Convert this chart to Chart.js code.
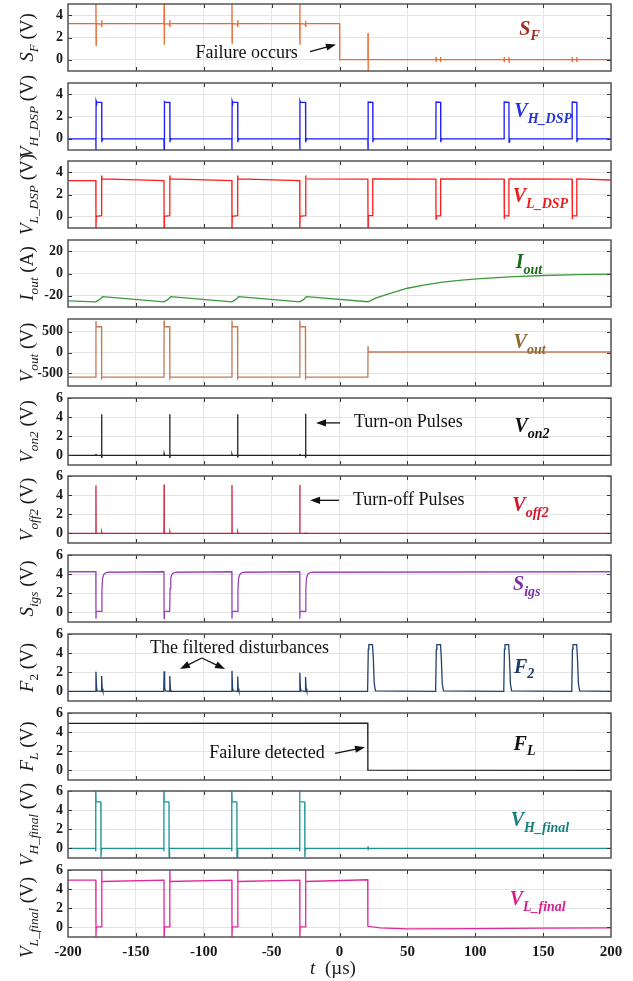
<!DOCTYPE html>
<html>
<head>
<meta charset="utf-8">
<script src="https://cdn.jsdelivr.net/npm/chart.js@4.4.0/dist/chart.umd.min.js"></script>
<style>
body { margin: 0; background: #fff; }
#wrap { position: relative; width: 633px; height: 981px; overflow: hidden; }
#wrap canvas { position: absolute; left: 0; }
</style>
</head>
<body>
<div id="wrap"></div>
<script>
// time axis (us)
const xTicks = [-200, -150, -100, -50, 0, 50, 100, 150, 200];
const ticksDsp = [0, 2, 4];
const ticksIout = [-20, 0, 20];
const ticksVout = [-500, 0, 500];
const ticks6 = [0, 2, 4, 6];

// waveforms: [t (us), value]
const sfPts = [
	[-200, 3.25], [-179.5, 3.25], [-179.4, 5.2], [-179.3, 1.3], [-179.2, 3.25], [-175.3, 3.2], [-175.2, 3.55], [-175.1, 2.95], [-175.0, 3.25],
	[-129.3, 3.25], [-129.2, 5.2], [-129.1, 1.35], [-129.0, 3.25], [-125.1, 3.2], [-125.0, 3.55], [-124.9, 2.95], [-124.8, 3.25],
	[-79.3, 3.25], [-79.2, 5.2], [-79.1, 1.5], [-79.0, 3.25], [-75.1, 3.2], [-75.0, 3.55], [-74.9, 2.95], [-74.8, 3.25],
	[-29.3, 3.25], [-29.2, 5.2], [-29.1, 1.35], [-29.0, 3.25], [-25.1, 3.2], [-25.0, 3.5], [-24.9, 2.95], [-24.8, 3.25],
	[0.1, 3.25], [0.2, 0.02],
	[20.9, 0.02], [21.0, 2.4], [21.1, -1.1], [21.2, 0.02],
	[71.0, 0.02], [71.1, 0.25], [71.2, -0.2], [71.3, 0.02], [74.3, 0.02], [74.4, 0.25], [74.5, -0.2], [74.6, 0.02],
	[121.2, 0.02], [121.3, 0.25], [121.4, -0.2], [121.5, 0.02], [124.7, 0.02], [124.8, 0.25], [124.9, -0.2], [125.0, 0.02],
	[171.3, 0.02], [171.4, 0.25], [171.5, -0.2], [171.6, 0.02], [174.7, 0.02], [174.8, 0.25], [174.9, -0.2], [175.0, 0.02],
	[200, 0.02],
];
const vhDspPts = [
	[-200, 0], [-179.5, 0], [-179.4, -1.1], [-179.3, 3.4], [-179.0, 3.27], [-175.2, 3.27], [-175.1, -0.3], [-174.8, 0.05], [-174.5, 0],
	[-129.3, 0], [-129.2, -1.1], [-129.1, 3.4], [-128.8, 3.27], [-125.0, 3.27], [-124.9, -0.3], [-124.6, 0.05], [-124.3, 0],
	[-79.3, 0], [-79.2, -1.1], [-79.1, 3.4], [-78.8, 3.27], [-75.0, 3.27], [-74.9, -0.3], [-74.6, 0.05], [-74.3, 0],
	[-29.3, 0], [-29.2, -1.1], [-29.1, 3.4], [-28.8, 3.27], [-25.0, 3.27], [-24.9, -0.3], [-24.6, 0.05], [-24.3, 0],
	[20.9, 0], [21.0, -1.1], [21.1, 3.3], [24.5, 3.27], [24.6, -0.3], [24.9, 0.05], [25.2, 0],
	[71.0, 0], [71.1, 3.3], [74.5, 3.27], [74.6, -0.3], [74.9, 0.05], [75.2, 0],
	[121.2, 0], [121.3, 3.3], [124.8, 3.27], [124.9, -0.3], [125.2, 0.05], [125.5, 0],
	[171.3, 0], [171.4, 3.3], [174.8, 3.27], [174.9, -0.3], [175.2, 0.05], [175.5, 0],
	[200, 0],
];
const vlDspPts = [
	[-200, 3.25], [-179.5, 3.25], [-179.4, -1.1], [-179.2, 0.05], [-175.3, 0.1], [-175.2, 3.7], [-174.9, 3.4],
	[-129.3, 3.25], [-129.2, -1.1], [-129.0, 0.05], [-125.1, 0.1], [-125.0, 3.7], [-124.7, 3.4],
	[-79.3, 3.25], [-79.2, -1.1], [-79.0, 0.05], [-75.1, 0.1], [-75.0, 3.7], [-74.7, 3.4],
	[-29.3, 3.25], [-29.2, -1.1], [-29.0, 0.05], [-25.1, 0.1], [-25.0, 3.7], [-24.7, 3.4],
	[20.9, 3.38], [21.0, -1.1], [21.2, 0.1], [24.4, 0.1], [24.5, 3.4],
	[71.0, 3.38], [71.1, -0.2], [71.3, 0.08], [74.4, 0.08], [74.5, 3.4],
	[121.2, 3.38], [121.3, -0.2], [121.5, 0.08], [124.7, 0.08], [124.8, 3.4],
	[171.3, 3.38], [171.4, -0.2], [171.6, 0.08], [174.7, 0.08], [174.8, 3.4],
	[200, 3.3],
];
const iOutPts = [
	[-200, -24.5], [-179.5, -25.4], [-176.8, -23.4], [-174.5, -20.8],
	[-129.3, -25.4], [-126.6, -23.4], [-124.3, -20.8],
	[-79.3, -25.4], [-76.6, -23.4], [-74.3, -20.8],
	[-29.3, -25.4], [-26.6, -23.4], [-24.3, -20.8],
	[21, -25.3], [27, -21.9], [35, -18.6], [50, -13.2], [62, -10.4], [76, -7.8], [90, -6.0],
	[101, -4.8], [125, -3.0], [150, -1.8], [175, -1.0], [200, -0.6],
];
const voutPts = [
	[-200, -590], [-179.5, -590], [-179.4, 750], [-179.2, 620], [-175.3, 615], [-175.2, -615], [-174.8, -590],
	[-129.3, -590], [-129.2, 765], [-129.0, 620], [-125.1, 615], [-125.0, -615], [-124.6, -590],
	[-79.3, -590], [-79.2, 765], [-79.0, 620], [-75.1, 615], [-75.0, -615], [-74.6, -590],
	[-29.3, -590], [-29.2, 765], [-29.0, 620], [-25.1, 615], [-25.0, -615], [-24.6, -590],
	[20.9, -590], [21.0, 150], [21.1, 12], [200, 12],
];
const von2Pts = [
	[-200, 0], [-179.5, 0], [-179.4, 0.15], [-179.2, 0], [-175.3, 0], [-175.2, 4.3], [-175.1, -0.25], [-174.9, 0],
	[-129.3, 0], [-129.2, 0.15], [-129.0, 0], [-125.1, 0], [-125.0, 4.3], [-124.9, -0.25], [-124.7, 0],
	[-79.3, 0], [-79.2, 0.1], [-79.0, 0], [-75.1, 0], [-75.0, 4.3], [-74.9, -0.2], [-74.7, 0],
	[-29.3, 0], [-29.2, 0.15], [-29.0, 0], [-25.1, 0], [-25.0, 4.35], [-24.9, -0.25], [-24.7, 0],
	[200, 0],
];
const voff2Pts = [
	[-200, 0], [-179.5, 0], [-179.4, 5.0], [-179.3, 0], [-175.2, 0], [-175.1, 0.12], [-174.9, 0],
	[-129.3, 0], [-129.2, 5.1], [-129.1, 0], [-125.0, 0], [-124.9, 0.12], [-124.7, 0],
	[-79.3, 0], [-79.2, 5.05], [-79.1, 0], [-75.0, 0], [-74.9, 0.12], [-74.7, 0],
	[-29.3, 0], [-29.2, 5.05], [-29.1, 0], [-25.0, 0], [-24.9, 0.12], [-24.7, 0],
	[200, 0],
];
const sigsPts = [
	[-200, 4.25], [-179.5, 4.25], [-179.4, -0.65], [-179.2, 0.12], [-175.3, 0.12], [-175.0, 2.5], [-174.5, 3.6], [-173.5, 4.0], [-172.0, 4.15], [-170.0, 4.2],
	[-129.3, 4.25], [-129.2, -0.65], [-129.0, 0.12], [-125.1, 0.12], [-124.8, 2.5], [-124.3, 3.6], [-123.3, 4.0], [-121.8, 4.15], [-119.8, 4.2],
	[-79.3, 4.25], [-79.2, -0.65], [-79.0, 0.12], [-75.1, 0.12], [-74.8, 2.5], [-74.3, 3.6], [-73.3, 4.0], [-71.8, 4.15], [-69.8, 4.2],
	[-29.3, 4.25], [-29.2, -0.65], [-29.0, 0.12], [-25.1, 0.12], [-24.8, 2.5], [-24.3, 3.6], [-23.3, 4.0], [-21.8, 4.15], [-19.8, 4.2],
	[200, 4.25],
];
const f2Pts = [
	[-200, 0], [-179.7, 0], [-179.4, 2.05], [-179.0, 0.4], [-178.5, 0.05], [-175.5, 0], [-175.2, 1.6], [-174.8, 0.3], [-174.3, 0.02],
	[-129.5, 0], [-129.2, 2.1], [-128.8, 0.4], [-128.3, 0.05], [-125.3, 0], [-125.0, 1.6], [-124.6, 0.3], [-124.1, 0.02],
	[-79.5, 0], [-79.2, 2.15], [-78.8, 0.4], [-78.3, 0.05], [-75.3, 0], [-75.0, 1.55], [-74.6, 0.3], [-74.1, 0.02],
	[-29.5, 0], [-29.2, 1.95], [-28.8, 0.4], [-28.3, 0.05], [-25.3, 0], [-25.0, 1.5], [-24.6, 0.3], [-24.1, 0.02],
	[20.7, 0], [21.2, 4.4], [21.6, 4.9], [24.3, 4.9], [24.9, 3.5], [25.6, 0.8], [26.5, 0.05],
	[70.8, 0], [71.3, 4.4], [71.7, 4.9], [74.4, 4.9], [75.0, 3.5], [75.7, 0.8], [76.6, 0.05],
	[121.0, 0], [121.5, 4.4], [121.9, 4.9], [124.6, 4.9], [125.2, 3.5], [125.9, 0.8], [126.8, 0.05],
	[171.1, 0], [171.6, 4.4], [172.0, 4.9], [174.7, 4.9], [175.3, 3.5], [176.0, 0.8], [176.9, 0.05],
	[200, 0],
];
const flPts = [[-200, 4.92], [20.8, 4.95], [20.9, 0.03], [200, 0.0]];
const vhFinalPts = [
	[-200, 0], [-179.7, 0], [-179.6, -0.3], [-179.5, 6.3], [-179.3, 4.88], [-175.8, 4.85], [-175.7, -0.9], [-175.4, 0.05], [-175.0, 0],
	[-129.5, 0], [-129.4, -0.3], [-129.3, 6.3], [-129.1, 4.88], [-125.6, 4.85], [-125.5, -0.9], [-125.2, 0.05], [-124.8, 0],
	[-79.5, 0], [-79.4, -0.3], [-79.3, 6.3], [-79.1, 4.88], [-75.6, 4.85], [-75.5, -0.9], [-75.2, 0.05], [-74.8, 0],
	[-29.5, 0], [-29.4, -0.3], [-29.3, 6.3], [-29.1, 4.88], [-25.6, 4.85], [-25.5, -0.9], [-25.2, 0.05], [-24.8, 0],
	[20.9, 0], [21.0, 0.2], [21.1, -0.2], [21.2, 0], [200, 0],
];
const vlFinalPts = [
	[-200, 4.95], [-179.5, 4.95], [-179.4, -1.1], [-179.2, 0.05], [-175.3, 0.05], [-175.2, 6.3], [-175.0, 4.8],
	[-129.3, 4.95], [-129.2, -1.1], [-129.0, 0.05], [-125.1, 0.05], [-125.0, 6.3], [-124.8, 4.8],
	[-79.3, 4.95], [-79.2, -1.1], [-79.0, 0.05], [-75.1, 0.05], [-75.0, 6.3], [-74.8, 4.8],
	[-29.3, 4.95], [-29.2, -1.1], [-29.0, 0.05], [-25.1, 0.05], [-25.0, 6.3], [-24.8, 4.8],
	[20.8, 4.98], [20.9, 0.12], [30, -0.05], [50, -0.15], [100, -0.12], [150, -0.08], [200, -0.05],
];

const FONT = '"Liberation Serif", "Times New Roman", serif';

// [text, italic, subscript]
const panels = [
	{ pts: sfPts, color: "#ea6a32", min: -1, max: 5, ticks: ticksDsp,
		title: [["S", 1, 0], ["F", 1, 1], [" (V)", 0, 0]], label: [["S", 0], ["F", 1]], labelColor: "#a52a1e", labelAt: [140, 2.85],
		notes: [{ text: "Failure occurs", at: [-68.4, 0.6] }], arrows: [[-21.7, 0.73, -2.6, 1.38]] },
	{ pts: vhDspPts, color: "#1c1cff", min: -1, max: 5, ticks: ticksDsp,
		title: [["V", 1, 0], ["H_DSP", 1, 1], [" (V)", 0, 0]], label: [["V", 0], ["H_DSP", 1]], labelColor: "#2233dd", labelAt: [150, 2.5] },
	{ pts: vlDspPts, color: "#ff1c1c", min: -1, max: 5, ticks: ticksDsp,
		title: [["V", 1, 0], ["L_DSP", 1, 1], [" (V)", 0, 0]], label: [["V", 0], ["L_DSP", 1]], labelColor: "#ee1c1c", labelAt: [148, 1.9] },
	{ pts: iOutPts, color: "#3c9a3c", min: -30, max: 30, ticks: ticksIout,
		title: [["I", 1, 0], ["out", 1, 1], [" (A)", 0, 0]], label: [["I", 0], ["out", 1]], labelColor: "#1a6e1a", labelAt: [139.6, 10.3] },
	{ pts: voutPts, color: "#c27a55", min: -800, max: 800, ticks: ticksVout,
		title: [["V", 1, 0], ["out", 1, 1], [" (V)", 0, 0]], label: [["V", 0], ["out", 1]], labelColor: "#8e6936", labelAt: [140, 252] },
	{ pts: von2Pts, color: "#222222", min: -1, max: 6, ticks: ticks6,
		title: [["V", 1, 0], ["on2", 1, 1], [" (V)", 0, 0]], label: [["V", 0], ["on2", 1]], labelColor: "#111111", labelAt: [141.8, 3.1],
		notes: [{ text: "Turn-on Pulses", at: [50.7, 3.42] }], arrows: [[0.4, 3.4, -17.3, 3.4]] },
	{ pts: voff2Pts, color: "#cc1f3d", min: -1, max: 6, ticks: ticks6,
		title: [["V", 1, 0], ["off2", 1, 1], [" (V)", 0, 0]], label: [["V", 0], ["off2", 1]], labelColor: "#d3142c", labelAt: [140.7, 3.0],
		notes: [{ text: "Turn-off Pulses", at: [51.0, 3.46] }], arrows: [[-0.3, 3.46, -21.7, 3.46]] },
	{ pts: sigsPts, color: "#9a45b8", min: -1, max: 6, ticks: ticks6,
		title: [["S", 1, 0], ["igs", 1, 1], [" (V)", 0, 0]], label: [["S", 0], ["igs", 1]], labelColor: "#7a2fa5", labelAt: [138, 3.0] },
	{ pts: f2Pts, color: "#22406e", min: -1, max: 6, ticks: ticks6,
		title: [["F", 1, 0], ["2", 0, 1], [" (V)", 0, 0]], label: [["F", 0], ["2", 1]], labelColor: "#1f3a68", labelAt: [136, 2.6],
		notes: [{ text: "The filtered disturbances", at: [-73.6, 4.46] }],
		arrows: [[-101.5, 3.49, -117.5, 2.34], [-101.5, 3.49, -84.3, 2.34]] },
	{ pts: flPts, color: "#222222", min: -1, max: 6, ticks: ticks6,
		title: [["F", 1, 0], ["L", 1, 1], [" (V)", 0, 0]], label: [["F", 0], ["L", 1]], labelColor: "#111111", labelAt: [136.3, 2.83],
		notes: [{ text: "Failure detected", at: [-53.4, 1.78] }], arrows: [[-3.3, 1.78, 18.8, 2.41]] },
	{ pts: vhFinalPts, color: "#1b9393", min: -1, max: 6, ticks: ticks6,
		title: [["V", 1, 0], ["H_final", 1, 1], [" (V)", 0, 0]], label: [["V", 0], ["H_final", 1]], labelColor: "#17807f", labelAt: [147.7, 3.0] },
	{ pts: vlFinalPts, color: "#e1279b", min: -1, max: 6, ticks: ticks6, titleDy: 14,
		title: [["V", 1, 0], ["L_final", 1, 1], [" (V)", 0, 0]], label: [["V", 0], ["L_final", 1]], labelColor: "#d81f8e", labelAt: [146, 3.0] },
];

// draws text pieces centred on cx, baseline at by
function drawSegs(ctx, segs, size, bold, cx, by) {
	const parts = segs.map(([txt, it, sub]) => {
		const fs = sub ? size * 0.7 : size;
		const font = `${it ? "italic " : ""}${bold ? "bold " : ""}${fs}px ${FONT}`;
		ctx.font = font;
		return { txt, font, w: ctx.measureText(txt).width, dy: sub ? size * 0.27 : 0 };
	});
	const total = parts.reduce((a, p) => a + p.w, 0);
	let x = cx - total / 2;
	ctx.textAlign = "left";
	ctx.textBaseline = "alphabetic";
	parts.forEach((p) => {
		ctx.font = p.font;
		ctx.fillText(p.txt, x, by + p.dy);
		x += p.w;
	});
}

function arrow(ctx, x1, y1, x2, y2) {
	const a = Math.atan2(y2 - y1, x2 - x1);
	const L = 10, W = 3.6;
	ctx.beginPath();
	ctx.moveTo(x1, y1);
	ctx.lineTo(x2 - Math.cos(a) * L * 0.8, y2 - Math.sin(a) * L * 0.8);
	ctx.stroke();
	ctx.beginPath();
	ctx.moveTo(x2, y2);
	ctx.lineTo(x2 - Math.cos(a) * L - Math.sin(a) * W, y2 - Math.sin(a) * L + Math.cos(a) * W);
	ctx.lineTo(x2 - Math.cos(a) * L + Math.sin(a) * W, y2 - Math.sin(a) * L - Math.cos(a) * W);
	ctx.closePath();
	ctx.fill();
}

function makeDeco(cfg, isLast) {
	return {
		id: "deco",
		afterDraw(chart) {
			const ctx = chart.ctx;
			const { left, right, top, bottom } = chart.chartArea;
			const xs = chart.scales.x, ys = chart.scales.y;
			ctx.save();
			// inward ticks
			ctx.strokeStyle = "#333";
			ctx.lineWidth = 1;
			ctx.beginPath();
			xTicks.slice(1, -1).forEach((v) => {
				const x = Math.round(xs.getPixelForValue(v)) + 0.5;
				ctx.moveTo(x, top); ctx.lineTo(x, top + 4);
				ctx.moveTo(x, bottom); ctx.lineTo(x, bottom - 4);
			});
			cfg.ticks.forEach((v) => {
				const y = Math.round(ys.getPixelForValue(v)) + 0.5;
				ctx.moveTo(left, y); ctx.lineTo(left + 4, y);
				ctx.moveTo(right, y); ctx.lineTo(right - 4, y);
			});
			ctx.stroke();
			// box
			ctx.strokeStyle = "#555";
			ctx.lineWidth = 1.5;
			ctx.strokeRect(left, top, right - left, bottom - top);

			// y title, rotated
			ctx.fillStyle = "#1a1a1a";
			ctx.save();
			ctx.translate(33, (top + bottom) / 2 + (cfg.titleDy || 0));
			ctx.rotate(-Math.PI / 2);
			drawSegs(ctx, cfg.title, 19, false, 0, 0);
			ctx.restore();

			// trace label
			ctx.fillStyle = cfg.labelColor;
			drawSegs(ctx, cfg.label.map(([t, s]) => [t, 1, s]), 20, true,
				xs.getPixelForValue(cfg.labelAt[0]), ys.getPixelForValue(cfg.labelAt[1]) + 6.5);

			// notes and arrows
			ctx.fillStyle = "#111";
			ctx.strokeStyle = "#111";
			ctx.lineWidth = 1.3;
			(cfg.notes || []).forEach((n) => {
				ctx.font = `18px ${FONT}`;
				ctx.textAlign = "center";
				ctx.textBaseline = "middle";
				ctx.fillText(n.text, xs.getPixelForValue(n.at[0]), ys.getPixelForValue(n.at[1]));
			});
			(cfg.arrows || []).forEach((a) => {
				arrow(ctx, xs.getPixelForValue(a[0]), ys.getPixelForValue(a[1]),
					xs.getPixelForValue(a[2]), ys.getPixelForValue(a[3]));
			});

			if (isLast) {
				ctx.fillStyle = "#1a1a1a";
				drawSegs(ctx, [["t", 1, 0], ["  (\u00b5s)", 0, 0]], 19, false, 333, bottom + 37);
			}
			ctx.restore();
		},
	};
}

const wrap = document.getElementById("wrap");
panels.forEach((cfg, i) => {
	const isLast = i === panels.length - 1;
	const plotTop = Math.round(4 + 78.73 * i);
	const plotH = 67;
	const padTop = 14;
	const axisH = isLast ? 44 : 0;
	const padBottom = isLast ? 0 : 14;
	const canvas = document.createElement("canvas");
	canvas.width = 633;
	canvas.height = padTop + plotH + axisH + padBottom;
	canvas.style.top = plotTop - padTop + "px";
	wrap.appendChild(canvas);

	new Chart(canvas, {
		type: "line",
		data: {
			datasets: [
				{
					data: cfg.pts.map((p) => ({ x: p[0], y: p[1] })),
					borderColor: cfg.color,
					borderWidth: 1.3,
					pointRadius: 0,
					tension: 0,
					fill: false,
				},
			],
		},
		options: {
			responsive: false,
			animation: false,
			devicePixelRatio: 1,
			events: [],
			layout: { padding: { top: padTop, bottom: padBottom, left: 0, right: 22 } },
			plugins: { legend: { display: false }, tooltip: { enabled: false } },
			scales: {
				x: {
					type: "linear",
					min: -200,
					max: 200,
					afterBuildTicks: (s) => { s.ticks = xTicks.map((v) => ({ value: v })); },
					afterFit: (s) => { s.height = axisH; },
					grid: { color: "#e4e4e4", lineWidth: 1, drawTicks: false },
					border: { display: false },
					ticks: {
						display: isLast,
						maxRotation: 0,
						padding: 6,
						color: "#1a1a1a",
						font: { family: FONT, weight: "bold", size: 15 },
					},
				},
				y: {
					min: cfg.min,
					max: cfg.max,
					afterBuildTicks: (s) => { s.ticks = cfg.ticks.map((v) => ({ value: v })); },
					afterFit: (s) => { s.width = 68; },
					grid: { color: "#e4e4e4", lineWidth: 1, drawTicks: false },
					border: { display: false },
					ticks: {
						padding: 5,
						color: "#1a1a1a",
						font: { family: FONT, weight: "bold", size: 14 },
					},
				},
			},
		},
		plugins: [makeDeco(cfg, isLast)],
	});
});
</script>
</body>
</html>
